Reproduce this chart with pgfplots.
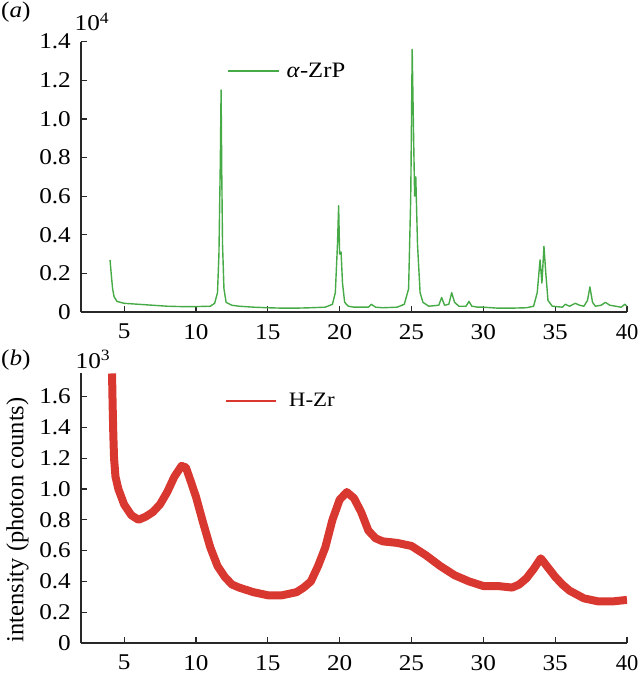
\documentclass[border=0pt]{standalone}
\usepackage{fontspec}
\setmainfont{Liberation Serif}
\usepackage{pgfplots}
\pgfplotsset{compat=1.18}

\definecolor{zrpgreen}{RGB}{70,170,70}
\definecolor{hzrred}{RGB}{216,56,48}
\definecolor{axisgray}{RGB}{40,40,40}

\newcommand\tfont{\fontsize{22.5bp}{26bp}\selectfont}
% the reference's text is set a little wide
\newcommand\sx[1]{\scalebox{1.12}[1]{#1}}

\pgfplotsset{
  xrdpanel/.style={
    scale only axis, width=546bp, height=270.3bp,
    xmin=2, xmax=40, ymin=0,
    axis x line*=bottom, axis y line*=left,
    axis line style={-, line width=1.2bp, axisgray},
    tick align=inside, major tick length=6bp,
    tick style={line width=1.2bp, axisgray},
    xtick={5,10,15,20,25,30,35,40},
    xticklabels={\sx{5},\sx{10},\sx{15},\sx{20},\sx{25},\sx{30},\sx{35},40},
    tick label style={font=\tfont, inner sep=0pt},
    xticklabel style={anchor=north, yshift=-12bp},
    yticklabel style={anchor=east, xshift=-10bp},
    legend style={draw=none, fill=none, inner sep=0pt, outer sep=0pt, anchor=west,
      nodes={inner sep=0pt}},
    legend cell align=left,
    legend image code/.code={\draw[#1, line width=2bp] (0bp,0bp) -- (51bp,0bp); \path (58bp,0bp);},
  },
}

\begin{document}
\begin{tikzpicture}
\useasboundingbox (-81bp,-364bp) rectangle (557bp,312bp);

% (a) alpha-ZrP, intensity in units of 10^4
\begin{axis}[xrdpanel, at={(0bp,0bp)}, anchor=south west, ymax=1.4,
  ytick={0,0.2,0.4,0.6,0.8,1.0,1.2,1.4},
  yticklabels={\sx{0},\sx{0.2},\sx{0.4},\sx{0.6},\sx{0.8},\sx{1.0},\sx{1.2},\sx{1.4}},
  legend style={at={(0.2674,0.8927)}, font=\fontsize{22bp}{26bp}\selectfont}]
\addplot[zrpgreen, line width=1.4bp, line join=round] table {
x y
4.02 0.27
4.1 0.20
4.2 0.12
4.3 0.08
4.5 0.055
5 0.045
6 0.04
7 0.035
8 0.03
9 0.028
10 0.028
11 0.03
11.3 0.045
11.5 0.10
11.6 0.30
11.7 0.80
11.75 1.15
11.8 0.70
11.85 0.35
11.95 0.12
12.1 0.05
12.5 0.035
13 0.03
14 0.025
15 0.022
16 0.02
17 0.02
18 0.022
19 0.025
19.5 0.04
19.7 0.10
19.85 0.35
19.93 0.55
20.0 0.30
20.1 0.31
20.2 0.15
20.35 0.05
20.6 0.03
21 0.025
22 0.025
22.2 0.04
22.5 0.025
23 0.022
24 0.025
24.5 0.04
24.8 0.12
24.95 0.6
25.05 1.36
25.15 0.9
25.22 0.6
25.3 0.70
25.42 0.35
25.6 0.10
25.8 0.05
26.2 0.03
26.9 0.035
27.1 0.075
27.3 0.035
27.6 0.04
27.8 0.10
28.0 0.05
28.3 0.03
28.8 0.03
29.0 0.055
29.2 0.03
29.6 0.025
30 0.025
31 0.02
32 0.02
33 0.022
33.5 0.03
33.75 0.10
33.95 0.27
34.08 0.15
34.22 0.34
34.35 0.20
34.5 0.06
34.8 0.03
35.5 0.025
35.7 0.04
36 0.03
36.4 0.045
36.7 0.035
37 0.03
37.25 0.06
37.42 0.13
37.6 0.05
37.8 0.03
38.2 0.035
38.5 0.05
38.8 0.035
39.2 0.03
39.6 0.025
39.85 0.04
40 0.03
};
\addlegendentry{\sx{\textit{α}-ZrP}}
\end{axis}

% (b) H-Zr, intensity in units of 10^3
\begin{axis}[xrdpanel, at={(0bp,-331bp)}, anchor=south west, ymax=1.755,
  ytick={0,0.2,0.4,0.6,0.8,1.0,1.2,1.4,1.6},
  yticklabels={\sx{0},\sx{0.2},\sx{0.4},\sx{0.6},\sx{0.8},\sx{1.0},\sx{1.2},\sx{1.4},\sx{1.6}},
  legend style={at={(0.2637,0.8963)}, font=\fontsize{20.5bp}{24bp}\selectfont},
  legend image code/.code={\draw[#1, line width=2bp] (0bp,0bp) -- (50bp,0bp); \path (59bp,0bp);}]
\addplot[hzrred, line width=8bp, line join=round] table {
x y
4.16 1.75
4.2 1.55
4.25 1.35
4.3 1.2
4.4 1.08
4.6 1.0
5 0.9
5.5 0.83
6 0.80
6.5 0.82
7 0.85
7.5 0.90
8 0.98
8.5 1.08
9 1.15
9.3 1.14
9.6 1.06
10 0.95
10.5 0.78
11 0.62
11.5 0.50
12 0.43
12.5 0.38
13 0.36
14 0.33
15 0.31
16 0.31
17 0.33
17.5 0.36
18 0.40
18.5 0.50
19 0.62
19.5 0.80
20 0.93
20.5 0.98
21 0.94
21.5 0.85
22 0.73
22.5 0.68
23 0.66
24 0.65
25 0.63
25.5 0.60
26 0.57
27 0.50
28 0.44
29 0.40
30 0.37
31 0.37
32 0.36
32.5 0.38
33 0.42
33.5 0.48
34 0.55
34.5 0.49
35 0.43
35.5 0.38
36 0.34
37 0.29
38 0.27
39 0.27
40 0.28
};
\addlegendentry{\sx{H-Zr}}
\end{axis}

\node[anchor=base west, inner sep=0pt, font=\tfont] at (-80bp,294bp) {\sx{(\textit{a})}};
\node[anchor=base west, inner sep=0pt, font=\tfont] at (-6.5bp,281bp) {\sx{10\textsuperscript{4}}};
\node[anchor=base west, inner sep=0pt, font=\tfont] at (-80bp,-53bp) {\sx{(\textit{b})}};
\node[anchor=base west, inner sep=0pt, font=\tfont] at (-5.5bp,-56bp) {\sx{10\textsuperscript{3}}};
\node[rotate=90, anchor=base, inner sep=0pt, font=\fontsize{24.5bp}{28bp}\selectfont]
  at (-57.7bp,-208bp) {intensity (photon counts)};
\end{tikzpicture}
\end{document}
